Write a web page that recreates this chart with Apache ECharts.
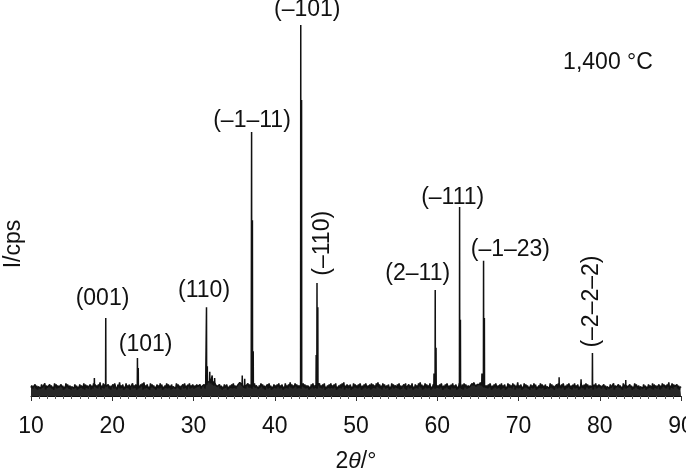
<!DOCTYPE html>
<html>
<head>
<meta charset="utf-8">
<script src="https://cdn.jsdelivr.net/npm/echarts@6/dist/echarts.min.js"></script>
<style>
  html, body { margin: 0; padding: 0; background: #fff; }
  #chart { width: 686px; height: 471px; }
</style>
</head>
<body>
<div id="chart"></div>
<script>
// baseline noise, one digit per 0.1 deg from 10 deg (0-9 scale)
const noiseRows = [
  '3524362514 3526342715 3426352417 3625342635 1427364251',
  '4352635142 6354271635 2436152746 3526481537 2645362514',
  '3627451638 2536142735 2614372536 1425364718 2536241736',
  '3524163527 3614253726 3516243527 3625143627 3516472536',
  '4253645362 4536276898 9786958674 5362514263 3614253627',
  '3524365897 5436254736 3526473546 2537462514 3627351426',
  '3526472536 1427352648 3625374625 3526473625 3514263725',
  '3625473526 3714253627 3526371425 3627481536 2536142736',
  '3526374152 6374253617 2635274836 2517364253 6142736254',
  '3627152436 2714362537 1426352748 3615273625 3714263526',
  '3526374152 6374251637 2536142735 2617364253 4567586746',
  '5768574635 3526374152 6374253617 2536142736 3527461538',
  '2536142736 3524163527 3614253726 3516243527 3625143627',
  '3526374152 6374251637 2536142735 2617364253 3516472536',
  '3524362514 3526342715 3426352417 3625342635 1427364251',
  '4352635142 6354271635 2436152746 3526481537 2645362514',
  '3'
]

// labelled reflections
const peakPos = [19.2, 23.1, 31.6, 37.15, 43.2, 45.2, 59.75, 62.75, 65.7, 79.1]
const peakTop = [20.9, 10.2, 23.8, 70.7, 99.4, 30.3, 28.4, 50.6, 36.2, 11.5]

// shoulders / second components next to the main lines
const shoulderPos = [23.2, 31.7, 37.25, 37.35, 43.3, 45.1, 45.3, 59.85, 62.85, 65.8]
const shoulderTop = [7.5, 8.0, 47.1, 12.0, 79.3, 11.0, 23.8, 12.9, 20.4, 20.9]

// small unlabelled bumps
const minorPos = [17.8, 32.0, 32.3, 32.6, 36.0, 36.3, 59.6, 65.5, 75.0, 77.7, 83.2]
const minorTop = [4.8, 6.5, 5.5, 4.8, 5.5, 4.6, 6.0, 6.0, 5.0, 4.5, 4.3]

// peak labels
const labelText = ['(001)', '(101)', '(110)', '(–1–11)', '(–101)', '(–110)', '(2–11)', '(–111)', '(–1–23)', '(–2–2–2)']
const labelX = [18.8, 24.1, 31.3, 37.2, 44.0, 45.9, 57.6, 61.9, 69.0, 79.0]
const labelY = [26.0, 13.7, 28.1, 73.7, 103.4, 40.9, 32.7, 53.2, 39.1, 25.3]
const labelRot = [0, 0, 0, 0, 0, 90, 0, 0, 0, 90]

const xTicks = [10, 20, 30, 40, 50, 60, 70, 80, 90]

const FONT = "'Liberation Sans', Arial, Helvetica, sans-serif"
const INK = '#111'

function buildPattern() {
  const digits = noiseRows.join('').replace(/\s/g, '')
  const pts = []
  for (let i = 0; i < digits.length; i++) {
    const x = +(10 + i * 0.1).toFixed(2)
    if (x > 90) break
    pts.push([x, 1.4 + (+digits[i]) * 0.28])
  }
  const baseAt = x => {
    const i = Math.min(pts.length - 1, Math.max(0, Math.round((x - 10) / 0.1)))
    return pts[i][1]
  }
  const addSpike = (p, h) => {
    const b = baseAt(p)
    pts.push([p - 0.02, b], [p, h], [p + 0.02, b])
  }
  peakPos.forEach((p, i) => addSpike(p, peakTop[i]))
  shoulderPos.forEach((p, i) => addSpike(p, shoulderTop[i]))
  minorPos.forEach((p, i) => addSpike(p, minorTop[i]))
  pts.sort((a, b) => a[0] - b[0])
  return pts
}

const chart = echarts.init(document.getElementById('chart'), null, { renderer: 'canvas' })

const option = {
  animation: false,
  backgroundColor: '#fff',
  textStyle: { fontFamily: FONT },
  grid: { left: 31, right: 5, top: 4, bottom: 75, outerBoundsMode: 'none', containLabel: false },
  xAxis: {
    type: 'value',
    min: 10,
    max: 90,
    interval: 10,
    name: '2{i|θ}/°',
    nameLocation: 'middle',
    nameGap: 54,
    nameTextStyle: {
      fontSize: 23, color: INK, fontFamily: FONT,
      rich: { i: { fontSize: 23, fontStyle: 'italic', color: INK, fontFamily: FONT } }
    },
    axisLine: { show: true, onZero: false, lineStyle: { color: INK, width: 1 } },
    axisTick: { show: true, length: 5, lineStyle: { color: '#333' } },
    minorTick: { show: true, splitNumber: 10, length: 3, lineStyle: { color: '#555' } },
    splitLine: { show: false },
    axisLabel: {
      fontSize: 23, color: INK, margin: 19, fontFamily: FONT,
      hideOverlap: false,
      formatter: v => xTicks.includes(v) ? String(v) : ''
    }
  },
  yAxis: {
    type: 'value',
    min: 0,
    max: 105,
    show: false
  },
  graphic: [
    {
      type: 'text', x: 14, y: 244, rotation: Math.PI / 2,
      style: { text: 'I/cps', font: '23px ' + FONT, fill: INK,
        textAlign: 'center', textVerticalAlign: 'middle', align: 'center', verticalAlign: 'middle' }
    },
    {
      type: 'text', x: 608, y: 63,
      style: { text: '1,400 °C', font: '23px ' + FONT, fill: INK,
        textAlign: 'center', textVerticalAlign: 'middle', align: 'center', verticalAlign: 'middle' }
    }
  ],
  series: [
    {
      name: 'XRD',
      type: 'line',
      data: buildPattern(),
      showSymbol: false,
      symbol: 'none',
      sampling: null,
      clip: false,
      lineStyle: { color: INK, width: 1.5 },
      areaStyle: { color: INK, opacity: 0.9 }
    },
    {
      name: 'labels',
      type: 'scatter',
      symbolSize: 0,
      silent: true,
      clip: false,
      itemStyle: { opacity: 1 },
      data: labelText.map((t, i) => ({
        value: [labelX[i], labelY[i]],
        label: { formatter: t, rotate: labelRot[i] }
      })),
      label: {
        show: true,
        position: 'inside',
        fontSize: 23,
        color: INK,
        fontFamily: FONT
      }
    }
  ]
}

chart.setOption(option)
</script>
</body>
</html>
